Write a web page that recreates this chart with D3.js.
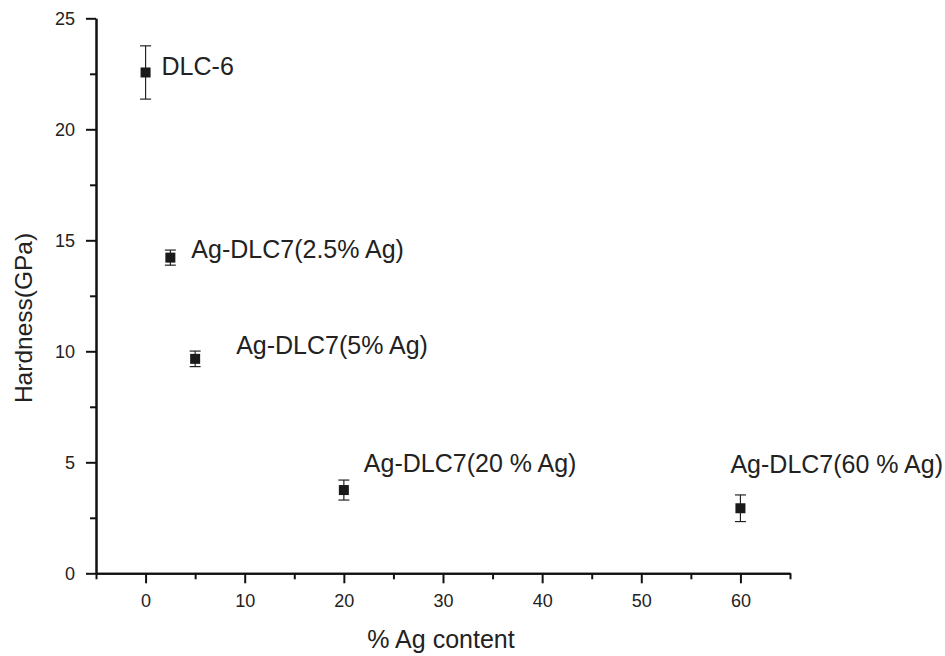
<!DOCTYPE html>
<html>
<head>
<meta charset="utf-8">
<script src="https://cdn.jsdelivr.net/npm/d3@7"></script>
<style>
  body { margin: 0; background: #fff; }
  svg text { font-family: "Liberation Sans", Arial, sans-serif; fill: #222; }
</style>
</head>
<body>
<div id="chart"></div>
<script>
// Data
const agContent = [0, 2.5, 5, 20, 60]
const hardness = [22.56, 14.22, 9.66, 3.75, 2.93]
const hardnessErr = [1.2, 0.34, 0.35, 0.45, 0.6]
const sampleLabels = [
  "DLC-6",
  "Ag-DLC7(2.5% Ag)",
  "Ag-DLC7(5% Ag)",
  "Ag-DLC7(20 % Ag)",
  "Ag-DLC7(60 % Ag)",
]
const xMajorTicks = [0, 10, 20, 30, 40, 50, 60]
const xMinorTicks = [-5, 5, 15, 25, 35, 45, 55, 65]
const yMajorTicks = [0, 5, 10, 15, 20, 25]
const yMinorTicks = [2.5, 7.5, 12.5, 17.5, 22.5]

// label placement, pixels from each marker
const labelOffsets = [[16, 3], [21, 0], [41, -5], [20, -18], [-10, -35]]

const dimensions = {
  width: 945,
  height: 656,
  margin: { top: 18.3, right: 155, bottom: 82.7, left: 96 },
}
dimensions.boundedWidth = dimensions.width - dimensions.margin.left - dimensions.margin.right
dimensions.boundedHeight = dimensions.height - dimensions.margin.top - dimensions.margin.bottom

const dataset = agContent.map((x, i) => ({
  x, y: hardness[i], err: hardnessErr[i], label: sampleLabels[i], offset: labelOffsets[i],
}))

const wrapper = d3.select("#chart")
  .append("svg")
  .attr("width", dimensions.width)
  .attr("height", dimensions.height)

const bounds = wrapper.append("g")
  .attr("transform", `translate(${dimensions.margin.left}, ${dimensions.margin.top})`)

// Scales
const xScale = d3.scaleLinear()
  .domain([-5, 65])
  .range([0, dimensions.boundedWidth])

const yScale = d3.scaleLinear()
  .domain([0, 25])
  .range([dimensions.boundedHeight, 0])

// Axes
const styleAxis = (g) => {
  g.select(".domain").attr("stroke", "#111").attr("stroke-width", 2)
  g.selectAll(".tick line").attr("stroke", "#111").attr("stroke-width", 2)
  g.selectAll(".tick text").style("font-size", "18px").attr("fill", "#222")
}

bounds.append("g")
  .attr("transform", `translate(0, ${dimensions.boundedHeight})`)
  .call(d3.axisBottom(xScale).tickValues(xMinorTicks).tickSize(6).tickFormat("").tickSizeOuter(0))
  .call(styleAxis)

bounds.append("g")
  .attr("transform", `translate(0, ${dimensions.boundedHeight})`)
  .call(d3.axisBottom(xScale).tickValues(xMajorTicks).tickSize(10).tickPadding(11).tickSizeOuter(0))
  .call(styleAxis)

bounds.append("g")
  .call(d3.axisLeft(yScale).tickValues(yMinorTicks).tickSize(6).tickFormat("").tickSizeOuter(0))
  .call(styleAxis)

bounds.append("g")
  .call(d3.axisLeft(yScale).tickValues(yMajorTicks).tickSize(10).tickPadding(11).tickSizeOuter(0))
  .call(styleAxis)

// Axis titles
wrapper.append("text")
  .attr("x", 441)
  .attr("y", 648)
  .attr("text-anchor", "middle")
  .style("font-size", "25px")
  .text("% Ag content")

wrapper.append("text")
  .attr("transform", "translate(32, 318) rotate(-90)")
  .attr("text-anchor", "middle")
  .style("font-size", "24.5px")
  .text("Hardness(GPa)")

// Error bars
const errs = bounds.append("g")
  .attr("stroke", "#222")
  .attr("stroke-width", 1.2)
  .selectAll("g")
  .data(dataset)
  .join("g")

errs.append("line")
  .attr("x1", d => xScale(d.x))
  .attr("x2", d => xScale(d.x))
  .attr("y1", d => yScale(d.y + d.err))
  .attr("y2", d => yScale(d.y - d.err))

errs.selectAll(".cap")
  .data(d => [d.y + d.err, d.y - d.err].map(v => ({ x: d.x, v })))
  .join("line")
  .attr("class", "cap")
  .attr("x1", d => xScale(d.x) - 5.5)
  .attr("x2", d => xScale(d.x) + 5.5)
  .attr("y1", d => yScale(d.v))
  .attr("y2", d => yScale(d.v))

// Markers
bounds.append("g")
  .selectAll("rect")
  .data(dataset)
  .join("rect")
  .attr("x", d => xScale(d.x) - 5)
  .attr("y", d => yScale(d.y) - 5)
  .attr("width", 10)
  .attr("height", 10)
  .attr("fill", "#1a1a1a")

// Sample labels
bounds.append("g")
  .selectAll("text")
  .data(dataset)
  .join("text")
  .attr("x", d => xScale(d.x) + d.offset[0])
  .attr("y", d => yScale(d.y) + d.offset[1])
  .style("font-size", "25px")
  .text(d => d.label)
</script>
</body>
</html>
